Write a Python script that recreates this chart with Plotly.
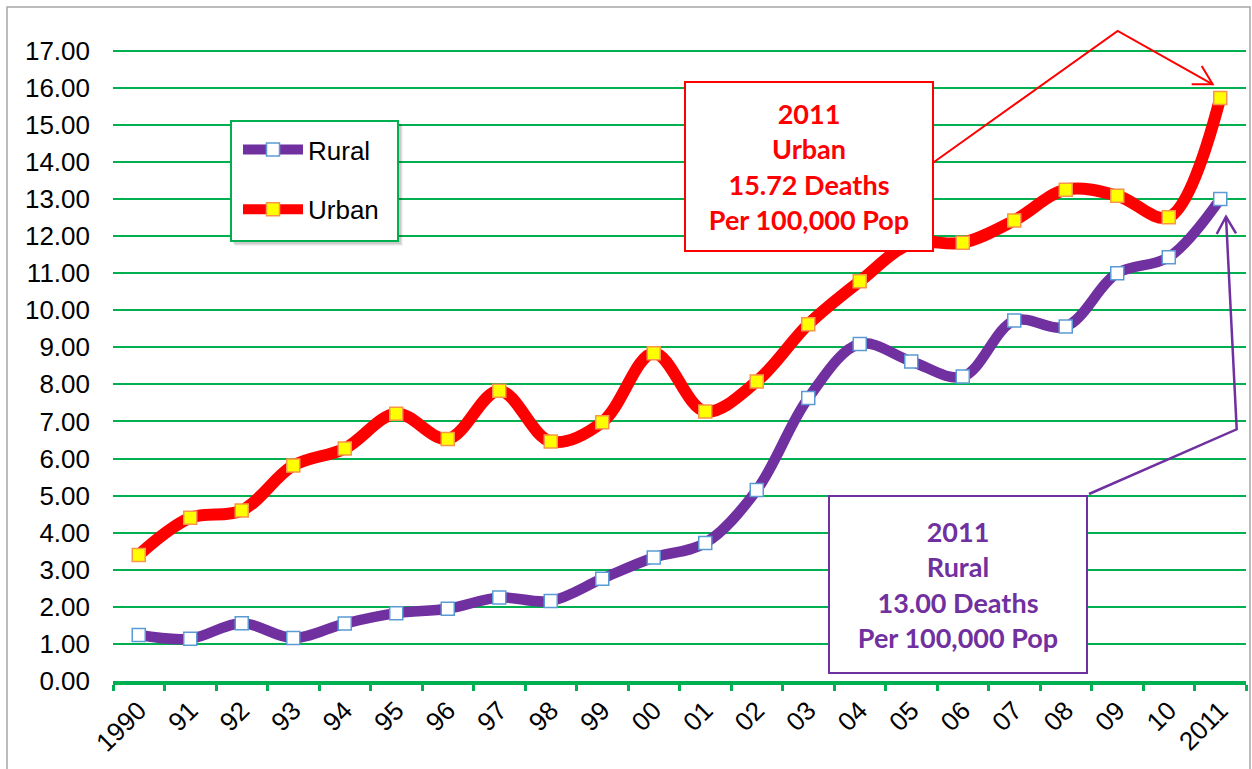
import plotly.graph_objects as go

# ---- data ----
years = ["1990", "91", "92", "93", "94", "95", "96", "97", "98", "99", "00",
         "01", "02", "03", "04", "05", "06", "07", "08", "09", "10", "2011"]
rural = [1.24, 1.14, 1.56, 1.16, 1.55, 1.83, 1.95, 2.25, 2.16, 2.76, 3.33,
         3.72, 5.15, 7.63, 9.09, 8.62, 8.21, 9.72, 9.56, 11.00, 11.43, 13.00]
urban = [3.40, 4.40, 4.60, 5.81, 6.27, 7.21, 6.53, 7.83, 6.46, 6.98, 8.84,
         7.27, 8.08, 9.62, 10.78, 11.80, 11.82, 12.42, 13.25, 13.09, 12.51, 15.72]
y_ticks = [i for i in range(0, 18)]
y_tick_labels = [f"{v:.2f}" for v in y_ticks]

RED = "#FF0000"
PURPLE = "#7030A0"
GREEN = "#00B050"

W, H = 1252, 769
L, R, T, B = 113, 6, 21, 88
PW, PH = W - L - R, H - T - B


def px(xp):
    return (xp - L) / PW


def py(yp):
    return (H - B - yp) / PH


fig = go.Figure()
fig.add_trace(go.Scatter(
    x=years, y=rural, name="Rural", mode="lines+markers",
    line=dict(color=PURPLE, width=10.5, shape="spline", smoothing=1.0),
    marker=dict(symbol="square", size=13, color="white",
                line=dict(color="#5B9BD5", width=1.5)),
    legendgroup="r"))
fig.add_trace(go.Scatter(
    x=years, y=urban, name="Urban", mode="lines+markers",
    line=dict(color=RED, width=12, shape="spline", smoothing=1.0),
    marker=dict(symbol="square", size=13, color="#FFFF00",
                line=dict(color="#F79646", width=1.5)),
    legendgroup="u"))

font_main = dict(family="Liberation Sans, Arial", size=26, color="black")

fig.update_layout(
    width=W, height=H,
    margin=dict(l=L, r=R, t=T, b=B, pad=0),
    paper_bgcolor="white", plot_bgcolor="white",
    font=font_main,
    showlegend=True,
    legend=dict(x=px(238), y=py(126), xanchor="left", yanchor="top",
                bgcolor="rgba(0,0,0,0)", borderwidth=0,
                font=font_main, itemwidth=60, tracegroupgap=23,
                traceorder="grouped"),
    xaxis=dict(type="category", showgrid=False, showline=True,
               linecolor=GREEN, linewidth=4, ticks="outside",
               tickson="boundaries", ticklen=6, tickwidth=3,
               tickcolor=GREEN, tickangle=-45, tickfont=font_main,
               range=[-0.5, len(years) - 0.5]),
    yaxis=dict(range=[0, 17.8], tickvals=y_ticks, ticktext=y_tick_labels,
               showgrid=True, gridcolor=GREEN, gridwidth=1.5,
               zeroline=False, showline=False, tickfont=font_main,
               ticklabelstandoff=22),
)

ann_font = dict(family="Lato", size=27)
fig.add_annotation(
    xref="paper", yref="paper", x=px(809), y=py(166.5),
    xanchor="center", yanchor="middle", showarrow=False,
    text="<b>2011<br>Urban<br>15.72 Deaths<br>Per 100,000 Pop</b>",
    font=dict(color=RED, **ann_font), align="center",
    bgcolor="white", bordercolor=RED, borderwidth=2, borderpad=0,
    width=246, height=167)
fig.add_annotation(
    xref="paper", yref="paper", x=px(958), y=py(584.5),
    xanchor="center", yanchor="middle", showarrow=False,
    text="<b>2011<br>Rural<br>13.00 Deaths<br>Per 100,000 Pop</b>",
    font=dict(color=PURPLE, **ann_font), align="center",
    bgcolor="white", bordercolor=PURPLE, borderwidth=2, borderpad=0,
    width=256, height=175)


def polyline(pts, color, width):
    path = "M " + " L ".join(f"{px(a):.5f},{py(b):.5f}" for a, b in pts)
    fig.add_shape(type="path", xref="paper", yref="paper", path=path,
                  line=dict(color=color, width=width), layer="above")


# urban callout
polyline([(933, 162.7), (1117.7, 31), (1212.7, 84.3)], RED, 2)
polyline([(1191.7, 84.3), (1212.7, 84.3), (1201.7, 66)], RED, 2)
# rural callout
polyline([(1089, 494), (1236.7, 429.3), (1226, 216.7)], PURPLE, 2.5)
polyline([(1216.7, 234), (1226, 216.7), (1236, 233.3)], PURPLE, 2.5)

# legend frame with soft shadow
for d, a in [(5, 0.05), (4, 0.07), (3, 0.09)]:
    fig.add_shape(type="rect", xref="paper", yref="paper",
                  x0=px(231 + d - 1), x1=px(398 + d), y0=py(241 + d), y1=py(121 + d - 1),
                  fillcolor=f"rgba(0,0,0,{a})", line=dict(width=0), layer="above")
fig.add_shape(type="rect", xref="paper", yref="paper",
              x0=px(231), x1=px(398), y0=py(241), y1=py(121),
              fillcolor="white", line=dict(color=GREEN, width=2), layer="above")
# outer chart border
fig.add_shape(type="rect", xref="paper", yref="paper",
              x0=px(7), x1=px(1250), y0=py(785), y1=py(7),
              line=dict(color="#A6A6A6", width=1.5), layer="above")

fig.write_html("out.html", config={"displayModeBar": False},
               post_script="document.body.style.margin='0';")
